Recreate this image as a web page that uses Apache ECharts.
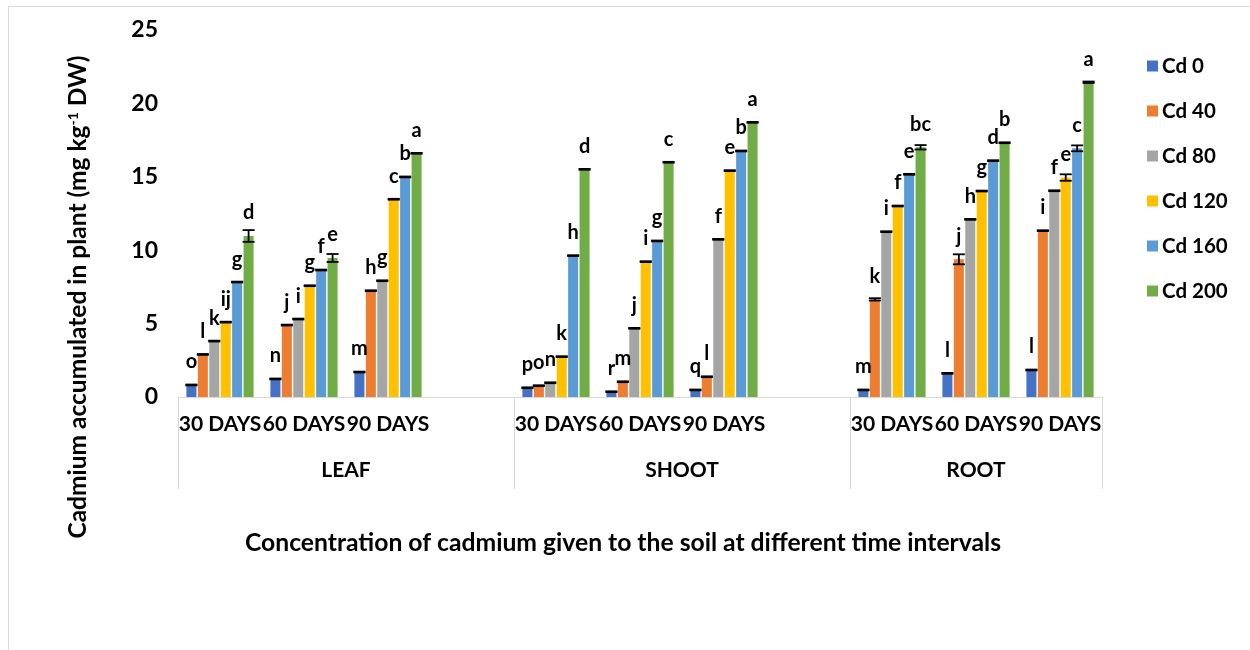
<!DOCTYPE html>
<html>
<head>
<meta charset="utf-8">
<script src="https://cdn.jsdelivr.net/npm/echarts@6/dist/echarts.min.js"></script>
<style>
  html, body { margin: 0; padding: 0; background: #fff; }
  #chart { position: absolute; left: 0; top: 0; width: 1250px; height: 650px; }
  #frame { position: absolute; left: 8px; top: 6px; width: 1300px; height: 700px; border: 1px solid #d9d9d9; pointer-events: none; }
</style>
</head>
<body>
<div id="chart"></div>
<div id="frame"></div>
<script>
// ---- data ----
const organs = ['LEAF', 'SHOOT', 'ROOT'];
const dayLabels = ['30 DAYS', '60 DAYS', '90 DAYS'];
const seriesNames = ['Cd 0', 'Cd 40', 'Cd 80', 'Cd 120', 'Cd 160', 'Cd 200'];
const colors = ['#4472C4', '#ED7D31', '#A5A5A5', '#FFC000', '#5B9BD5', '#70AD47'];
const yTicks = [0, 5, 10, 15, 20, 25];

// values in order LEAF(30,60,90), SHOOT(30,60,90), ROOT(30,60,90)
const cd0   = [0.82, 1.23, 1.70, 0.63, 0.36, 0.48, 0.48, 1.61, 1.84];
const cd40  = [2.90, 4.90, 7.24, 0.77, 1.04, 1.38, 6.65, 9.38, 11.33];
const cd80  = [3.81, 5.31, 7.92, 0.97, 4.68, 10.74, 11.26, 12.10, 14.05];
const cd120 = [5.10, 7.58, 13.47, 2.75, 9.22, 15.42, 13.01, 14.03, 14.95];
const cd160 = [7.83, 8.65, 14.99, 9.63, 10.63, 16.76, 15.17, 16.10, 16.94];
const cd200 = [10.97, 9.47, 16.60, 15.51, 15.99, 18.71, 17.01, 17.32, 21.44];

const err0   = [0.03, 0.03, 0.03, 0.03, 0.03, 0.03, 0.03, 0.03, 0.03];
const err40  = [0.03, 0.03, 0.03, 0.03, 0.03, 0.03, 0.08, 0.34, 0.03];
const err80  = [0.03, 0.03, 0.03, 0.03, 0.03, 0.03, 0.03, 0.03, 0.03];
const err120 = [0.03, 0.03, 0.03, 0.03, 0.03, 0.03, 0.03, 0.03, 0.22];
const err160 = [0.03, 0.03, 0.03, 0.03, 0.03, 0.03, 0.03, 0.03, 0.20];
const err200 = [0.40, 0.27, 0.03, 0.03, 0.03, 0.03, 0.15, 0.03, 0.05];

const let0   = ['o', 'n', 'm', 'p', 'r', 'q', 'm', 'l', 'l'];
const let40  = ['l', 'j', 'h', 'o', 'm', 'l', 'k', 'j', 'i'];
const let80  = ['k', 'i', 'g', 'n', 'j', 'f', 'i', 'h', 'f'];
const let120 = ['ij', 'g', 'c', 'k', 'i', 'e', 'f', 'g', 'e'];
const let160 = ['g', 'f', 'b', 'h', 'g', 'b', 'e', 'd', 'c'];
const let200 = ['d', 'e', 'a', 'd', 'c', 'a', 'bc', 'b', 'a'];

const xTitle = 'Concentration of cadmium given to the soil at different time intervals';

// ---- build ----
const values = [cd0, cd40, cd80, cd120, cd160, cd200];
const errors = [err0, err40, err80, err120, err160, err200];
const letters = [let0, let40, let80, let120, let160, let200];

// categories with a blank spacer between organ groups
const categories = [];
const slotOf = []; // data index -> category index
const groupStart = [];
organs.forEach((o, gi) => {
  groupStart.push(categories.length);
  dayLabels.forEach(d => { slotOf.push(categories.length); categories.push(d); });
  if (gi < organs.length - 1) categories.push('');
});
const nCat = categories.length;
const groupEnd = organs.map((o, gi) => gi < organs.length - 1 ? groupStart[gi + 1] : nCat);
const groupCenters = organs.map((o, gi) => (groupStart[gi] + groupEnd[gi]) / 2);
const groupBounds = [0].concat(groupEnd);

const FONT = 'Lato';
const CAT_GAP = 0.2, BAR_GAP = 0.14;

const series = [];
values.forEach((arr, si) => {
  const full = new Array(nCat).fill(null);
  arr.forEach((v, i) => { full[slotOf[i]] = v; });
  const labMap = {};
  letters[si].forEach((l, i) => { labMap[slotOf[i]] = l; });
  series.push({
    name: seriesNames[si],
    type: 'bar',
    xAxisIndex: 0,
    data: full,
    itemStyle: { color: colors[si] },
    barGap: (BAR_GAP * 100) + '%',
    barCategoryGap: (CAT_GAP * 100) + '%',
    label: {
      show: true,
      position: 'top',
      distance: 11,
      fontFamily: FONT,
      fontWeight: 'bold',
      fontSize: 20,
      lineHeight: 24,
      color: '#000',
      formatter: p => labMap[p.dataIndex] || ''
    },
    z: 2
  });
});

// error bars
values.forEach((arr, si) => {
  const d = arr.map((v, i) => [slotOf[i], v, errors[si][i]]);
  series.push({
    name: seriesNames[si],
    type: 'custom',
    xAxisIndex: 0,
    data: d,
    encode: { x: 0, y: 1 },
    z: 5,
    silent: true,
    renderItem: function (params, api) {
      const c = api.value(0), v = api.value(1), e = api.value(2);
      const band = api.size([1, 0])[0];
      const total = band * (1 - CAT_GAP);
      const w = total / (6 + 5 * BAR_GAP);
      const xc = api.coord([c, v])[0] - total / 2 + w / 2 + si * w * (1 + BAR_GAP);
      const yHi = api.coord([c, v + e])[1];
      const yLo = api.coord([c, v - e])[1];
      const half = 6;
      const style = { stroke: '#000', lineWidth: 1.8 };
      return {
        type: 'group',
        children: [
          { type: 'line', shape: { x1: xc, y1: yHi, x2: xc, y2: yLo }, style: style },
          { type: 'line', shape: { x1: xc - half, y1: yHi, x2: xc + half, y2: yHi }, style: style },
          { type: 'line', shape: { x1: xc - half, y1: yLo, x2: xc + half, y2: yLo }, style: style }
        ]
      };
    }
  });
});

const chart = echarts.init(document.getElementById('chart'), null, { renderer: 'canvas' });
chart.setOption({
  backgroundColor: '#fff',
  animation: false,
  textStyle: { fontFamily: FONT },
  grid: { left: 178, right: 148, top: 30, bottom: 253 },
  legend: {
    data: seriesNames,
    orient: 'vertical',
    left: 1142,
    top: 49,
    icon: 'rect',
    itemWidth: 11,
    itemHeight: 11,
    itemGap: 21,
    textStyle: { fontFamily: FONT, fontWeight: 'bold', fontSize: 20.5, lineHeight: 24, color: '#000', padding: [0, 0, 0, -1] }
  },
  xAxis: [
    {
      type: 'category',
      data: categories,
      position: 'bottom',
      axisLine: { show: true, lineStyle: { color: '#d9d9d9', width: 1 } },
      axisTick: { show: false },
      axisLabel: { interval: 0, margin: 17, fontFamily: FONT, fontWeight: 'bold', fontSize: 21, color: '#000' },
      splitLine: { show: false },
      name: xTitle,
      nameLocation: 'middle',
      nameGap: 134,
      nameTextStyle: { fontFamily: FONT, fontWeight: 'bold', fontSize: 24.7, color: '#000', padding: [0, 34, 0, 0] }
    },
    {
      type: 'value',
      min: 0,
      max: nCat,
      position: 'bottom',
      axisLine: { show: false },
      splitLine: { show: false },
      axisTick: {
        show: true,
        customValues: groupBounds,
        length: 92,
        lineStyle: { color: '#d9d9d9', width: 1 }
      },
      axisLabel: {
        show: true,
        customValues: groupCenters,
        margin: 63,
        fontFamily: FONT, fontWeight: 'bold', fontSize: 21, color: '#000',
        formatter: function (v) {
          const gi = groupCenters.findIndex(c => Math.abs(c - v) < 1e-6);
          return gi >= 0 ? organs[gi] : '';
        }
      }
    }
  ],
  yAxis: {
    type: 'value',
    min: yTicks[0],
    max: yTicks[yTicks.length - 1],
    interval: yTicks[1] - yTicks[0],
    axisLine: { show: false },
    axisTick: { show: false },
    splitLine: { show: false },
    axisLabel: { margin: 20, fontFamily: FONT, fontWeight: 'bold', fontSize: 23, color: '#000' },
    name: 'Cadmium accumulated in plant (mg kg{sup|-1} DW)',
    nameLocation: 'middle',
    nameRotate: 90,
    nameGap: 87,
    nameTextStyle: {
      fontFamily: FONT, fontWeight: 'bold', fontSize: 24.5, color: '#000',
      padding: [0, 167, 0, 0],
      rich: { sup: { fontFamily: FONT, fontWeight: 'bold', fontSize: 14, verticalAlign: 'top', lineHeight: 16, color: '#000' } }
    }
  },
  series: series
});
</script>
</body>
</html>
